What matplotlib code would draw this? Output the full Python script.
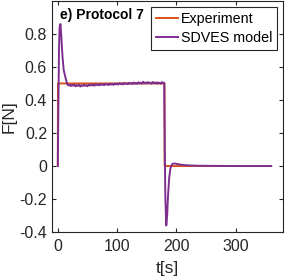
import matplotlib.pyplot as plt

plt.rcParams['font.family'] = ['Liberation Sans', 'DejaVu Sans']

# experiment (input step)
exp_t = [0, 0.3, 180, 180.3, 360]
exp_f = [0, 0.5, 0.5, 0.0, 0.0]

# SDVES model response: initial overshoot, noisy plateau, undershoot on release
rise_t = [0, 1, 2, 3, 4.5, 6, 8, 10, 12, 14, 16]
rise_f = [0, 0.35, 0.7, 0.84, 0.86, 0.78, 0.66, 0.58, 0.55, 0.52, 0.495]

plat_t = [18, 20, 22, 24, 26, 28, 30, 32, 34, 36, 38, 40, 42, 44, 46, 48, 50,
          52, 54, 56, 58, 60, 62, 64, 66, 68, 70, 72, 74, 76, 78, 80, 82, 84,
          86, 88, 90, 92, 94, 96, 98, 100, 102, 104, 106, 108, 110, 112, 114,
          116, 118, 120, 122, 124, 126, 128, 130, 132, 134, 136, 138, 140, 142,
          144, 146, 148, 150, 152, 154, 156, 158, 160, 162, 164, 166, 168, 170,
          172, 174, 176, 178, 179.6]
plat_f = [0.488, 0.493, 0.484, 0.491, 0.486, 0.494, 0.482, 0.49, 0.485, 0.492,
          0.481, 0.489, 0.484, 0.493, 0.486, 0.49, 0.483, 0.492, 0.487, 0.495,
          0.488, 0.493, 0.486, 0.496, 0.49, 0.494, 0.488, 0.497, 0.491, 0.495,
          0.489, 0.498, 0.492, 0.496, 0.49, 0.499, 0.493, 0.497, 0.491, 0.5,
          0.494, 0.499, 0.493, 0.502, 0.495, 0.5, 0.494, 0.503, 0.497, 0.501,
          0.495, 0.504, 0.498, 0.502, 0.496, 0.506, 0.499, 0.503, 0.497, 0.507,
          0.5, 0.505, 0.498, 0.51, 0.501, 0.506, 0.499, 0.508, 0.502, 0.505,
          0.498, 0.509, 0.501, 0.506, 0.499, 0.507, 0.5, 0.505, 0.498, 0.508,
          0.501, 0.504]

drop_t = [180.5, 181.5, 183, 184.5, 186, 188, 190, 193, 197, 202, 210, 220,
          235, 260, 300, 360]
drop_f = [0.1, -0.2, -0.36, -0.3, -0.18, -0.07, -0.015, 0.012, 0.016, 0.012,
          0.007, 0.004, 0.002, 0.001, 0.0, 0.0]

mod_t = rise_t + plat_t + drop_t
mod_f = rise_f + plat_f + drop_f

fig = plt.figure(figsize=(2.85, 2.8), dpi=100)
ax = fig.add_axes([0.182, 0.171, 0.811, 0.826])
ax.plot(exp_t, exp_f, color='#D95319', lw=1.4, label='Experiment')
ax.plot(mod_t, mod_f, color='#7E2F8E', lw=1.4, label='SDVES model')
ax.set_xlim(-10, 380)
ax.set_ylim(-0.4, 1.0)
ax.set_xticks([0, 100, 200, 300])
ax.set_yticks([-0.4, -0.2, 0, 0.2, 0.4, 0.6, 0.8])
ax.set_yticklabels(['-0.4', '-0.2', '0', '0.2', '0.4', '0.6', '0.8'])
ax.tick_params(direction='in', labelsize=11.5, length=3, top=True, right=True,
               colors='#262626')
ax.tick_params(axis='x', pad=5)
for s in ax.spines.values():
    s.set_color('#262626')
    s.set_linewidth(0.8)
ax.set_xlabel('t[s]', fontsize=12.5, color='#262626', labelpad=5)
ax.set_ylabel('F[N]', fontsize=12.5, color='#262626', labelpad=2)
ax.text(0.035, 0.97, 'e) Protocol 7', transform=ax.transAxes, fontsize=10,
        fontweight='bold', va='top', ha='left')
leg = ax.legend(loc='upper right', fontsize=10.3, frameon=True, fancybox=False,
                edgecolor='#262626', borderpad=0.35, handlelength=1.55,
                handletextpad=0.2, labelspacing=0.4, borderaxespad=0.4,
                framealpha=1)
leg.get_frame().set_linewidth(0.8)
fig.savefig('out.png', dpi=100)
